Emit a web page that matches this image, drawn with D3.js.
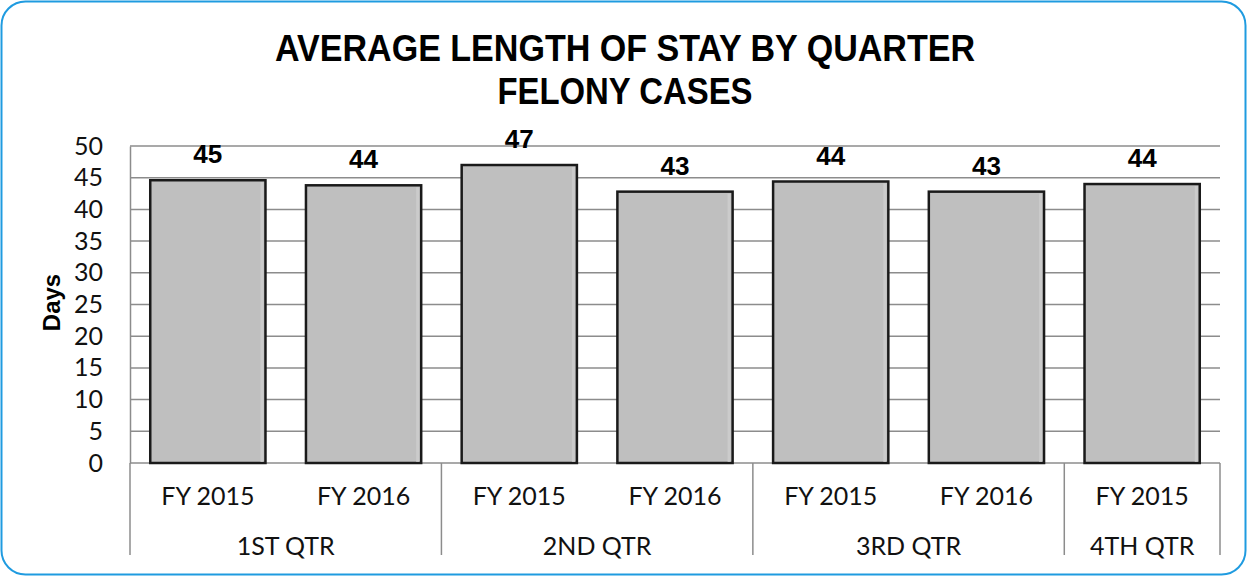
<!DOCTYPE html>
<html>
<head>
<meta charset="utf-8">
<script src="https://cdn.jsdelivr.net/npm/d3@7"></script>
<style>
  body { margin: 0; background: #fff; }
</style>
</head>
<body>
<script>
const canvWidth = 1247, canvHeight = 576;
const margin = {top: 146, right: 27, bottom: 113, left: 130};
const width = canvWidth - margin.left - margin.right;
const height = canvHeight - margin.top - margin.bottom;

// data
const fiscalYears = ["FY 2015", "FY 2016", "FY 2015", "FY 2016", "FY 2015", "FY 2016", "FY 2015"];
const quarters = ["1ST QTR", "2ND QTR", "3RD QTR", "4TH QTR"];
const quarterOf = [0, 0, 1, 1, 2, 2, 3];
const avgDays = [44.6, 43.8, 47.0, 42.8, 44.4, 42.8, 44.0];
const dayLabels = ["45", "44", "47", "43", "44", "43", "44"];
const yTicks = [0, 5, 10, 15, 20, 25, 30, 35, 40, 45, 50];

const tickFont = "Lato, 'Open Sans', sans-serif";
const boldFont = "'Liberation Sans', Arial, sans-serif";

const svg = d3.select("body").append("svg")
    .attr("width", canvWidth)
    .attr("height", canvHeight);

// outer rounded frame
svg.append("rect")
    .attr("x", 1.5).attr("y", 1.5)
    .attr("width", canvWidth - 3).attr("height", canvHeight - 3)
    .attr("rx", 24).attr("ry", 24)
    .attr("fill", "#fff")
    .attr("stroke", "#1f9be0")
    .attr("stroke-width", 2);

// title
const titleLines = [
    {text: "AVERAGE LENGTH OF STAY BY QUARTER", y: 61, len: 700},
    {text: "FELONY CASES", y: 104, len: 255}
];
svg.selectAll(".title")
    .data(titleLines)
    .enter().append("text")
    .attr("class", "title")
    .attr("x", 625)
    .attr("y", d => d.y)
    .attr("text-anchor", "middle")
    .attr("font-family", boldFont)
    .attr("font-weight", "bold")
    .attr("font-size", "36px")
    .attr("textLength", d => d.len)
    .attr("lengthAdjust", "spacingAndGlyphs")
    .attr("fill", "#000")
    .text(d => d.text);

const chart = svg.append("g")
    .attr("transform", `translate(${margin.left},${margin.top})`);

const xScale = d3.scaleBand()
    .domain(d3.range(avgDays.length))
    .range([0, width])
    .paddingInner(0.26)
    .paddingOuter(0.13);

const yScale = d3.scaleLinear()
    .domain([0, 50])
    .range([height, 0]);

// gridlines
chart.append("g")
    .selectAll("line")
    .data(yTicks)
    .enter().append("line")
    .attr("x1", 0).attr("x2", width)
    .attr("y1", d => yScale(d)).attr("y2", d => yScale(d))
    .attr("stroke", "#8c8c8c")
    .attr("stroke-width", 1.5);

// y axis (line only + labels)
const yAxis = d3.axisLeft(yScale).tickValues(yTicks).tickSize(0).tickPadding(27);
chart.append("g")
    .call(yAxis)
    .call(g => g.select(".domain").attr("stroke", "#8c8c8c").attr("stroke-width", 1.5))
    .call(g => g.selectAll("text")
        .attr("font-family", tickFont)
        .attr("font-size", "25px")
        .attr("fill", "#111"));

chart.append("text")
    .attr("transform", "rotate(-90)")
    .attr("x", -(yScale(25)) + 2)
    .attr("y", 60 - margin.left)
    .attr("text-anchor", "middle")
    .attr("font-family", boldFont)
    .attr("font-weight", "bold")
    .attr("font-size", "24px")
    .attr("fill", "#000")
    .text("Days");

// bars
const bars = chart.append("g").selectAll("g")
    .data(avgDays)
    .enter().append("g");

bars.append("rect")
    .attr("x", (d, i) => xScale(i))
    .attr("y", d => yScale(d))
    .attr("width", xScale.bandwidth())
    .attr("height", d => height - yScale(d))
    .attr("fill", "#bfbfbf")
    .attr("stroke", "#1a1a1a")
    .attr("stroke-width", 2.5);

// slight shading on the right edge of each bar
bars.append("rect")
    .attr("x", (d, i) => xScale(i) + xScale.bandwidth() - 5)
    .attr("y", d => yScale(d) + 2)
    .attr("width", 3)
    .attr("height", d => height - yScale(d) - 3)
    .attr("fill", "#d0d0d0")
    .attr("opacity", 0.7);

bars.append("text")
    .attr("x", (d, i) => xScale(i) + xScale.bandwidth() / 2)
    .attr("y", d => yScale(d) - 17)
    .attr("text-anchor", "middle")
    .attr("font-family", boldFont)
    .attr("font-weight", "bold")
    .attr("font-size", "26px")
    .attr("textLength", 29)
    .attr("lengthAdjust", "spacingAndGlyphs")
    .attr("fill", "#000")
    .text((d, i) => dayLabels[i]);

// category axis (two rows)
const bandW = width / avgDays.length;
const bandLeft = i => i * bandW;

chart.append("g").selectAll("text")
    .data(fiscalYears)
    .enter().append("text")
    .attr("x", (d, i) => bandLeft(i) + bandW / 2)
    .attr("y", height + 42)
    .attr("text-anchor", "middle")
    .attr("font-family", tickFont)
    .attr("font-size", "25px")
    .attr("fill", "#111")
    .text(d => d);

const groupStarts = quarters.map((q, qi) => quarterOf.indexOf(qi));
const groupEnds = quarters.map((q, qi) => quarterOf.lastIndexOf(qi) + 1);

chart.append("g").selectAll("text")
    .data(quarters)
    .enter().append("text")
    .attr("x", (d, qi) => (bandLeft(groupStarts[qi]) + bandLeft(groupEnds[qi])) / 2)
    .attr("y", height + 92)
    .attr("text-anchor", "middle")
    .attr("font-family", tickFont)
    .attr("font-size", "25px")
    .attr("fill", "#111")
    .text(d => d);

const dividers = [0].concat(groupEnds);
chart.append("g").selectAll("line")
    .data(dividers)
    .enter().append("line")
    .attr("x1", d => bandLeft(d)).attr("x2", d => bandLeft(d))
    .attr("y1", height).attr("y2", height + 92)
    .attr("stroke", "#8c8c8c")
    .attr("stroke-width", 1.5);
</script>
</body>
</html>
